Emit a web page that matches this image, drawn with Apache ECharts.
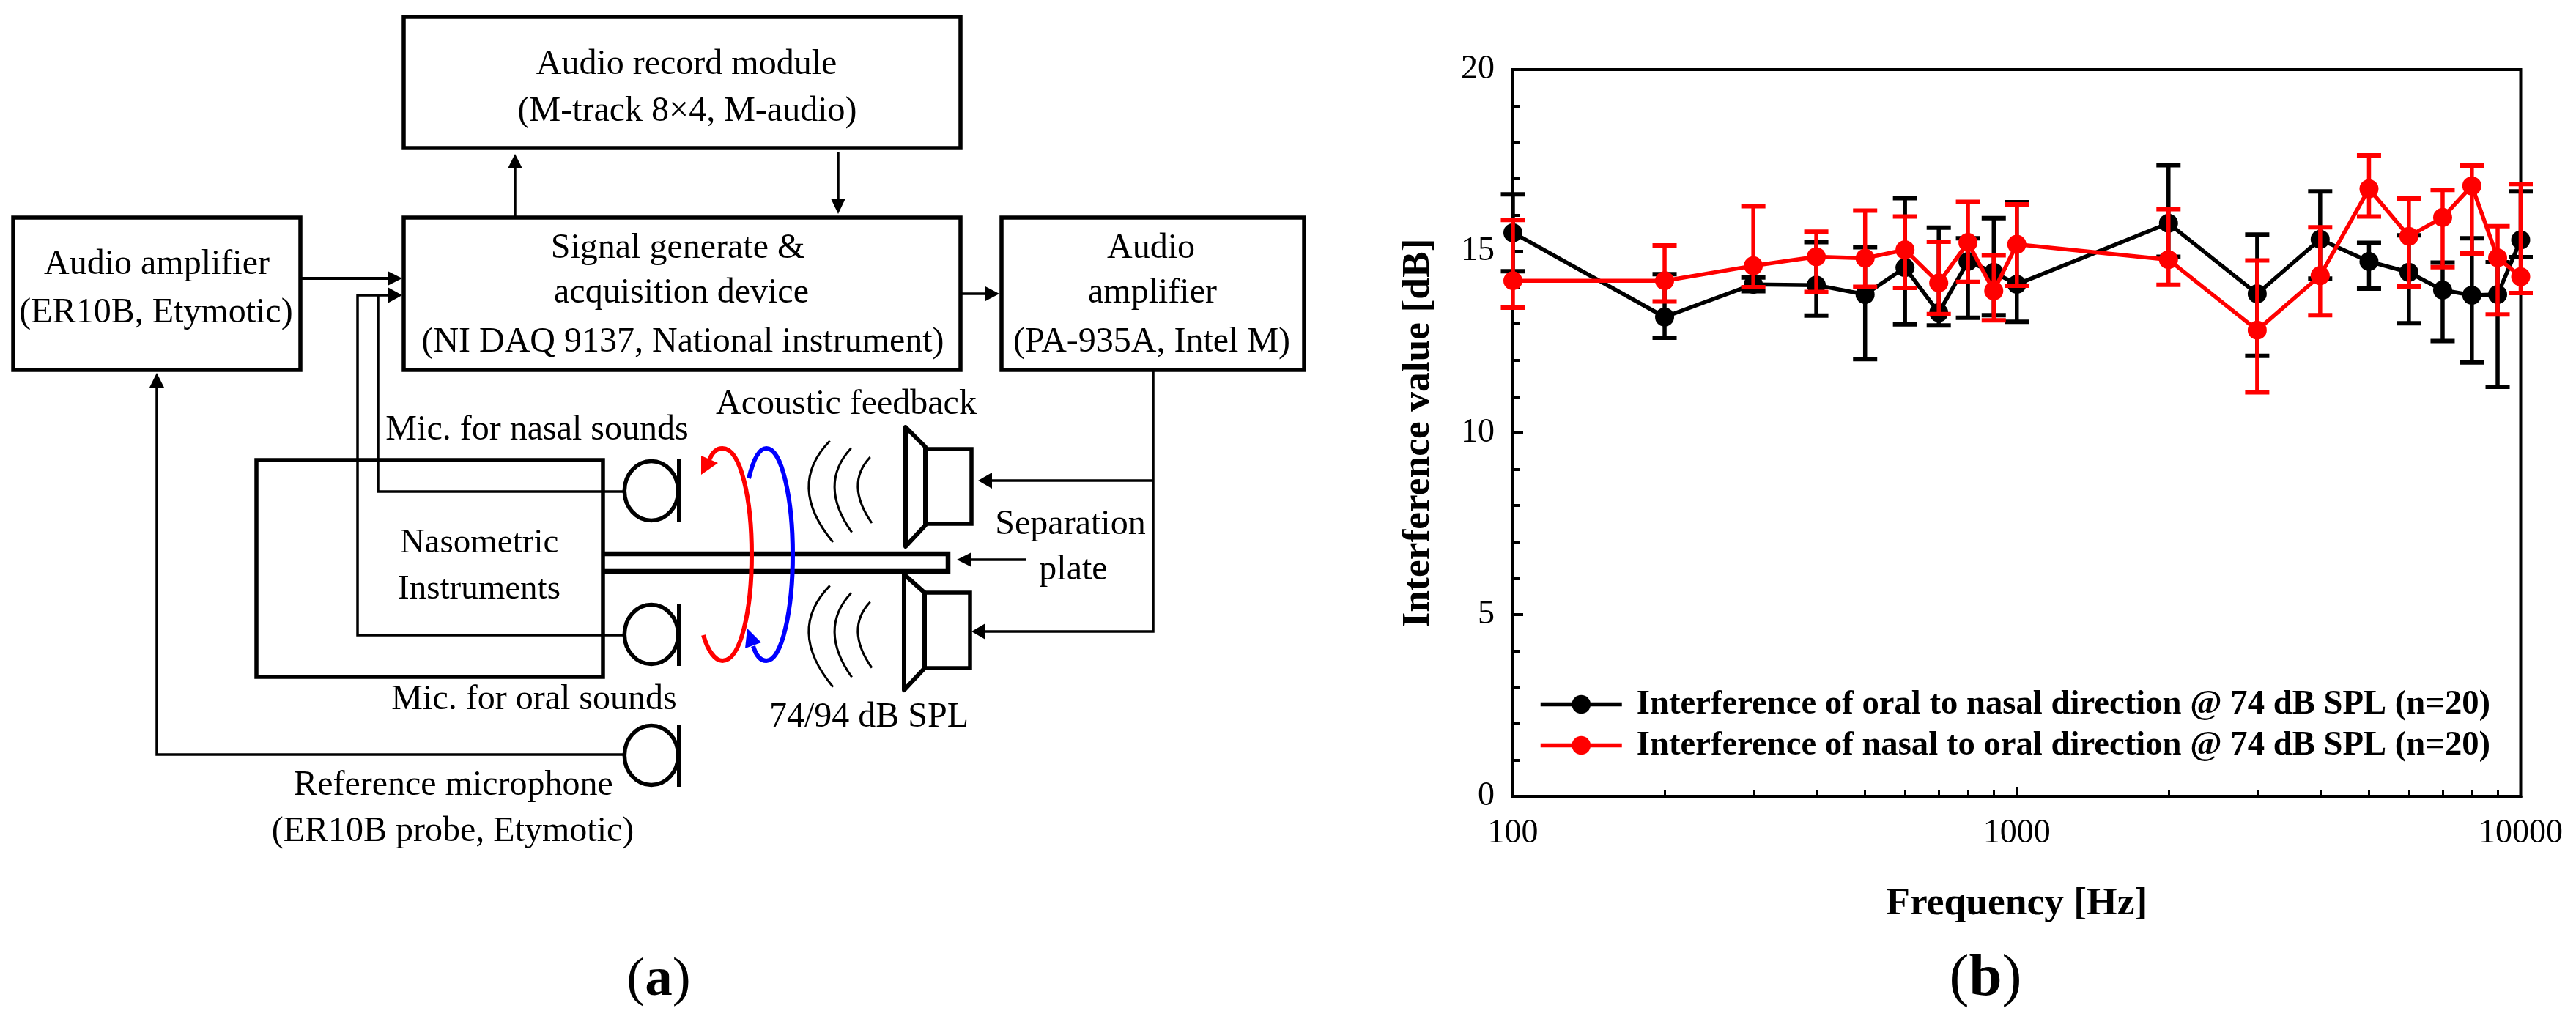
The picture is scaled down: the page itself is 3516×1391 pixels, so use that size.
<!DOCTYPE html>
<html><head><meta charset="utf-8">
<style>html,body{margin:0;padding:0;background:#fff}#c{width:3516px;height:1391px}</style>
<script src="https://cdn.jsdelivr.net/npm/echarts@6/dist/echarts.min.js"></script>
</head><body><div id="c"></div>
<script>
// ---- chart data ----
const frequencies=[100,200,300,400,500,600,700,800,900,1000,2000,3000,4000,5000,6000,7000,8000,9000,10000];
const oralToNasalMean=[15.51,13.19,14.09,14.07,13.81,14.55,13.31,14.72,14.42,14.09,15.77,13.83,15.33,14.72,14.42,13.93,13.79,13.81,15.31];
const oralToNasalUpper=[16.57,14.37,14.28,15.25,15.11,16.46,15.65,15.36,15.91,16.35,17.37,15.46,16.65,15.23,15.44,14.69,15.36,14.70,16.65];
const oralToNasalLower=[14.45,12.62,13.90,13.23,12.03,12.99,12.96,13.17,13.24,13.06,14.85,12.12,14.25,13.97,13.02,12.53,11.94,11.27,14.84];
const nasalToOralMean=[14.19,14.19,14.60,14.85,14.81,15.04,14.13,15.24,13.91,15.19,14.77,12.83,14.33,16.72,15.41,15.93,16.80,14.82,14.30];
const nasalToOralUpper=[15.86,15.16,16.24,15.54,16.12,15.96,15.26,16.36,14.89,16.29,16.16,14.75,15.66,17.64,16.45,16.69,17.36,15.69,16.85];
const nasalToOralLower=[13.45,13.62,14.01,13.88,14.02,13.99,13.27,14.16,13.10,14.05,14.08,11.12,13.24,15.96,14.03,14.56,14.94,13.26,13.85];
const xMajorTicks=[100,1000,10000];
const xMinorTicks=[200,300,400,500,600,700,800,900,2000,3000,4000,5000,6000,7000,8000,9000];
const nameOralToNasal='Interference of oral to nasal direction @ 74 dB SPL (n=20)';
const nameNasalToOral='Interference of nasal to oral direction @ 74 dB SPL (n=20)';
const xTitle='Frequency [Hz]';
const yTitle='Interference value [dB]';

// ---- schematic panel (a) helpers ----
const FF='"Liberation Serif"';
const g=[];
const K='#000';
const L=(x1,y1,x2,y2,w=3.5,c=K)=>g.push({type:'line',silent:true,shape:{x1,y1,x2,y2},style:{stroke:c,lineWidth:w,fill:null}});
const PL=(points,w=3.5,c=K)=>g.push({type:'polyline',silent:true,shape:{points},style:{stroke:c,lineWidth:w,fill:null,lineJoin:'miter'}});
const R=(x,y,r,b,w=5.5)=>g.push({type:'rect',silent:true,shape:{x,y,width:r-x,height:b-y},style:{stroke:K,lineWidth:w,fill:null,lineJoin:'miter'}});
const TRI=(pts,c=K)=>g.push({type:'polygon',silent:true,shape:{points:pts},style:{fill:c}});
const POLY=(pts,w)=>g.push({type:'polygon',silent:true,shape:{points:pts},style:{stroke:K,lineWidth:w,fill:null,lineJoin:'round'}});
const E=(cx,cy,rx,ry,w=5.5)=>g.push({type:'ellipse',silent:true,shape:{cx,cy,rx,ry},style:{stroke:K,lineWidth:w,fill:null}});
const Q=(x1,y1,cx,cy,x2,y2,w=3)=>g.push({type:'bezierCurve',silent:true,shape:{x1,y1,x2,y2,cpx1:cx,cpy1:cy},style:{stroke:K,lineWidth:w,fill:null}});
const C=(a,c)=>g.push({type:'bezierCurve',silent:true,z:5,shape:{x1:a[0],y1:a[1],cpx1:a[2],cpy1:a[3],cpx2:a[4],cpy2:a[5],x2:a[6],y2:a[7]},style:{stroke:c,lineWidth:6,fill:null,lineCap:'butt'}});
const T=(text,x,base,fs=48)=>g.push({type:'text',silent:true,x,y:base-0.3375*fs,style:{text,x:0,y:0,fill:K,font:`${fs}px ${FF}`,align:'center',verticalAlign:'middle'}});

// boxes
R(551,23,1311,202);R(551,297,1311,505);R(18,297,410,505);R(1367,297,1780,505);R(350,628,823,924);
// arrows
L(410,380,530,380,4);TRI([[529,370],[549,380],[529,390]]);
PL([[852,867],[488,867],[488,403],[530,403]]);TRI([[529,392],[549,403],[529,414]]);
PL([[852,671],[516,671],[516,403]]);
L(703,297,703,228);TRI([[693,230],[703,210],[713,230]]);
L(1144,207,1144,272);TRI([[1134,271],[1144,292],[1154,271]]);
L(1311,401,1346,401);TRI([[1345,391],[1364,401],[1345,411]]);
PL([[852,1030],[214,1030],[214,528]]);TRI([[204,529],[214,509],[224,529]]);
PL([[1574,505],[1574,862],[1345,862]]);L(1574,656,1354,656);
TRI([[1354,645],[1335,656],[1354,667]]);TRI([[1345,851],[1326,862],[1345,873]]);
L(1400,764,1326,764);TRI([[1326,754],[1306,764],[1326,774]]);
// microphones
const micX=889,micBar=927;
[[670,627,713],[866,824,909],[1031,989,1074]].forEach(m=>{E(micX,m[0],36.7,40.5);L(micBar,m[1],micBar,m[2],6);});
// separation plate
PL([[823,756],[1294,756],[1294,780],[823,780]],6.5);
// speakers
POLY([[1236,583],[1263,610],[1263,717],[1236,746]],6);R(1263,613,1326,715);
POLY([[1234,784],[1262,809],[1262,912],[1234,942]],6);R(1262,809,1324,912);
// sound waves
[0,197.7].forEach(d=>{Q(1132.7,601.7+d,1073,663+d,1137,740+d);Q(1161.7,611.7+d,1116,661+d,1162.7,726.7+d);Q(1187.7,624+d,1153,661+d,1190,714+d);});
// feedback arrows
const RED='#ff0000',BLUE='#0000ff';
C([960,867,966,888,976,902,986,902],RED);C([986,902,1012,902,1026,830,1026,757],RED);C([1026,757,1026,684,1012,612,986,612],RED);C([986,612,978,612,972,618,968,628],RED);
TRI([[957,648],[957,622],[980,632]],RED);
C([1022,653,1028,628,1036,612,1046,612],BLUE);C([1046,612,1068,612,1082,684,1082,757],BLUE);C([1082,757,1082,830,1068,902,1046,902],BLUE);C([1046,902,1038,902,1032,895,1028,882],BLUE);
TRI([[1020,858],[1017,885],[1039,877]],BLUE);
// texts
T('Audio record module',937,105);T('(M-track 8×4, M-audio)',938,169);
T('Audio amplifier',214,378);T('(ER10B, Etymotic)',213,444);
T('Signal generate &',925,356);T('acquisition device',930,417);T('(NI DAQ 9137, National instrument)',932,484);
T('Audio',1571,356);T('amplifier',1573,417);T('(PA-935A, Intel M)',1572,484);
T('Acoustic feedback',1155,569);T('Mic. for nasal sounds',733,604);
T('Nasometric',654,758,47);T('Instruments',654,821,47);T('Mic. for oral sounds',729,972);
T('74/94 dB SPL',1186,996);T('Separation',1461,733);T('plate',1465,795);
T('Reference microphone',619,1089);T('(ER10B probe, Etymotic)',618,1152);
const PANEL=(l,x,fs)=>g.push({type:'text',silent:true,x,y:1364-0.3375*fs,style:{text:`{n|(}{b|${l}}{n|)}`,align:'center',verticalAlign:'middle',rich:{n:{font:`${fs}px ${FF}`,fill:K},b:{font:`bold ${fs}px ${FF}`,fill:K}}}});
PANEL('a',899,75);PANEL('b',2710,81);

// ---- chart ----
const chart=echarts.init(document.getElementById('c'),null,{renderer:'canvas',width:3516,height:1391});
const rows=(m,u,l)=>frequencies.map((f,i)=>[f,l[i],u[i],m[i]]);
const errSeries=(name,up,lo,mean,color,z)=>({
  type:'custom',name:name+' error',coordinateSystem:'cartesian2d',xAxisIndex:0,yAxisIndex:0,z,clip:false,silent:true,
  data:rows(mean,up,lo),encode:{x:0,y:[1,2]},
  renderItem(params,api){
    const x=api.value(0);const a=api.coord([x,api.value(1)]);const b=api.coord([x,api.value(2)]);
    const cap=16.5;const st={stroke:color,lineWidth:6};
    return {type:'group',children:[
      {type:'line',shape:{x1:a[0],y1:a[1],x2:b[0],y2:b[1]},style:{stroke:color,lineWidth:5.5}},
      {type:'line',shape:{x1:a[0]-cap,y1:a[1],x2:a[0]+cap,y2:a[1]},style:st},
      {type:'line',shape:{x1:b[0]-cap,y1:b[1],x2:b[0]+cap,y2:b[1]},style:st}]};
  }});
const lineSeries=(name,mean,color,z)=>({
  type:'line',name,xAxisIndex:0,yAxisIndex:0,data:frequencies.map((f,i)=>[f,mean[i]]),z,clip:false,silent:true,
  symbol:'circle',symbolSize:26,showSymbol:true,animation:false,
  lineStyle:{color,width:5.5},itemStyle:{color}});
const axisFont={fontFamily:FF,fontSize:46,color:K};
const titleFont={fontFamily:FF,fontSize:53.5,fontWeight:'bold',color:K};
chart.setOption({
  animation:false,backgroundColor:'#fff',
  grid:{left:2065,top:95,width:1375.5,height:992,show:true,borderColor:K,borderWidth:4,backgroundColor:'transparent'},
  xAxis:[
   {type:'log',logBase:10,min:100,max:10000,name:xTitle,nameLocation:'middle',nameGap:120,nameTextStyle:titleFont,
    axisLine:{show:true,onZero:false,lineStyle:{color:K,width:4.5}},splitLine:{show:false},minorTick:{show:false},
    axisTick:{show:true,inside:true,length:13,lineStyle:{color:K,width:3},customValues:xMajorTicks},
    axisLabel:{...axisFont,margin:28,customValues:xMajorTicks,formatter:v=>String(Math.round(v)),showMinLabel:true,showMaxLabel:true,hideOverlap:false}},
   {type:'log',logBase:10,min:100,max:10000,position:'bottom',
    axisLine:{show:false},splitLine:{show:false},axisLabel:{show:false},
    axisTick:{show:true,inside:true,length:9,lineStyle:{color:K,width:3},customValues:xMinorTicks}}
  ],
  yAxis:{type:'value',min:0,max:20,interval:5,name:yTitle,nameLocation:'middle',nameGap:102,nameTextStyle:titleFont,
    axisLine:{show:true,onZero:false,lineStyle:{color:K,width:4}},splitLine:{show:false},
    axisTick:{show:true,inside:true,length:14,lineStyle:{color:K,width:4}},
    minorTick:{show:true,splitNumber:5,length:9,lineStyle:{color:K,width:4}},
    axisLabel:{...axisFont,margin:25}},
  legend:{left:2100,top:938,orient:'vertical',selectedMode:false,itemWidth:111,itemHeight:32,itemGap:9,
    data:[{name:nameOralToNasal,lineStyle:{width:5.5,color:K}},{name:nameNasalToOral,lineStyle:{width:5.5,color:RED}}],
    lineStyle:{width:5.5},
    textStyle:{fontFamily:FF,fontSize:46.7,fontWeight:'bold',color:K,padding:[0,0,0,15]},padding:0,align:'left'},
  series:[
    errSeries(nameOralToNasal,oralToNasalUpper,oralToNasalLower,oralToNasalMean,K,2),
    lineSeries(nameOralToNasal,oralToNasalMean,K,3),
    errSeries(nameNasalToOral,nasalToOralUpper,nasalToOralLower,nasalToOralMean,RED,4),
    lineSeries(nameNasalToOral,nasalToOralMean,RED,5)
  ],
  graphic:{elements:g}
});
</script></body></html>
